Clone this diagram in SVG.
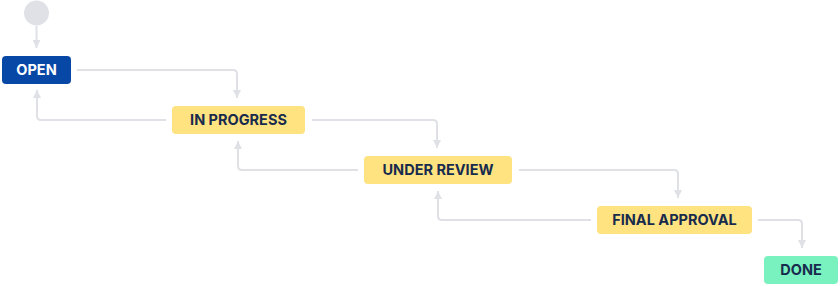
<svg xmlns="http://www.w3.org/2000/svg" width="840" height="286" viewBox="0 0 840 286">
<style>
.box{stroke:none}
.lbl{font-family:Inter,"Noto Sans","Liberation Sans",sans-serif;font-weight:700;font-size:14.5px;text-anchor:middle;fill:#172B4D}
.conn{fill:none;stroke:#DFE1E6;stroke-width:2}
</style>
<defs>
<marker id="arrUp" viewBox="0 0 8 8" refX="4" refY="0" markerWidth="8" markerHeight="8" markerUnits="userSpaceOnUse" orient="0">
<path d="M4,0 L8,8 L0,8 Z" fill="#DFE1E6"/>
</marker>
<marker id="arrDown" viewBox="0 0 8 8" refX="4" refY="8" markerWidth="8" markerHeight="8" markerUnits="userSpaceOnUse" orient="0">
<path d="M0,0 L8,0 L4,8 Z" fill="#DFE1E6"/>
</marker>
</defs>
<g id="connectors">
<path class="conn" d="M36.5,26 V48" marker-end="url(#arrDown)"/>
<path class="conn" d="M77,70 H233 Q237,70 237,74 V98" marker-end="url(#arrDown)"/>
<path class="conn" d="M312,120 H433 Q437,120 437,124 V148" marker-end="url(#arrDown)"/>
<path class="conn" d="M519,170 H674 Q678,170 678,174 V198" marker-end="url(#arrDown)"/>
<path class="conn" d="M758,220 H798 Q802,220 802,224 V248" marker-end="url(#arrDown)"/>
<path class="conn" d="M166,120 H41 Q37,120 37,116 V90" marker-end="url(#arrUp)"/>
<path class="conn" d="M358,170 H242 Q238,170 238,166 V141" marker-end="url(#arrUp)"/>
<path class="conn" d="M591,220 H442 Q438,220 438,216 V191" marker-end="url(#arrUp)"/>
</g>
<g id="start">
<circle cx="36.5" cy="13" r="12.5" fill="#DFE1E6"/>
</g>
<g id="open">
<rect class="box" x="2" y="56" width="69" height="28" rx="4" fill="#0747A6"/>
<text class="lbl" x="36.5" y="75.2" style="fill:#FFFFFF">OPEN</text>
</g>
<g id="in-progress">
<rect class="box" x="172" y="106" width="133" height="28" rx="4" fill="#FFE380"/>
<text class="lbl" x="238.5" y="125.2">IN PROGRESS</text>
</g>
<g id="under-review">
<rect class="box" x="364" y="156" width="148" height="28" rx="4" fill="#FFE380"/>
<text class="lbl" x="438" y="175.2">UNDER REVIEW</text>
</g>
<g id="final-approval">
<rect class="box" x="597" y="206" width="155" height="28" rx="4" fill="#FFE380"/>
<text class="lbl" x="674.5" y="225.2">FINAL APPROVAL</text>
</g>
<g id="done">
<rect class="box" x="764" y="256" width="74" height="28" rx="4" fill="#79F2C0"/>
<text class="lbl" x="801" y="275.2">DONE</text>
</g>
</svg>
